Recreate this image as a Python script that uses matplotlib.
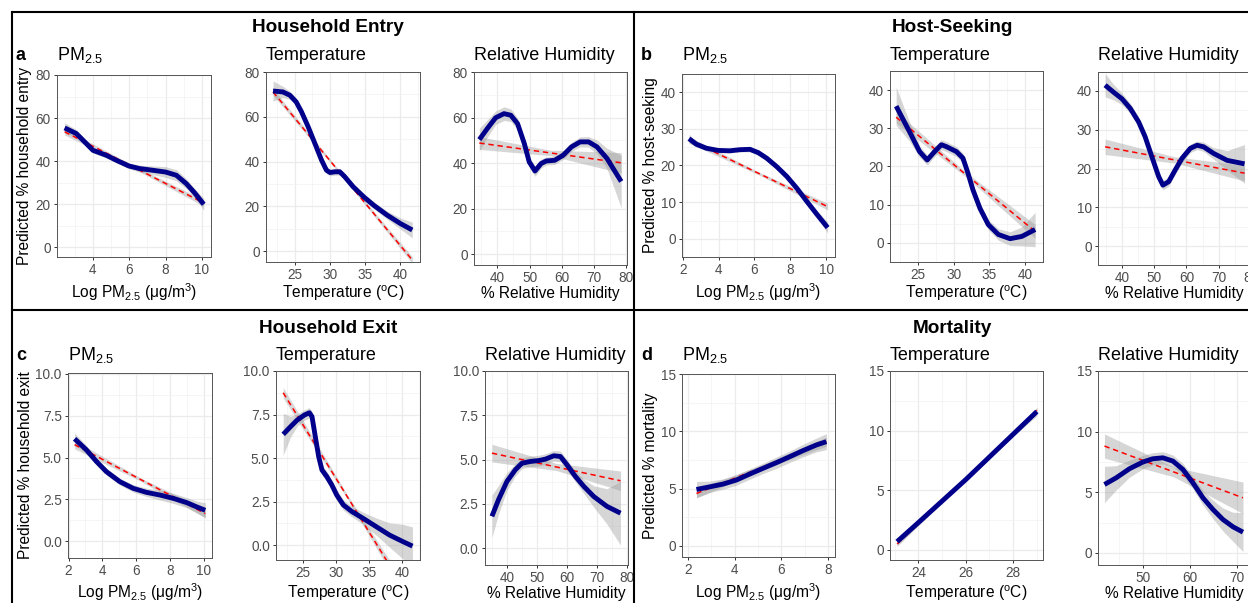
import numpy as np
import matplotlib
matplotlib.use("Agg")
import matplotlib.pyplot as plt
from matplotlib.ticker import MultipleLocator, AutoMinorLocator, FormatStrFormatter
from matplotlib.lines import Line2D

plt.rcParams['font.family'] = ['Liberation Sans', 'DejaVu Sans']
plt.rcParams['mathtext.fontset'] = 'custom'
plt.rcParams['mathtext.rm'] = 'Liberation Sans'
plt.rcParams['mathtext.it'] = 'Liberation Sans:italic'
plt.rcParams['mathtext.bf'] = 'Liberation Sans:bold'

# ---- data ----
# a: household entry
a_pm_x = [2.44, 3.08, 3.45, 4.0, 4.73, 5.28, 5.98, 6.57, 7.3, 8.0, 8.59, 9.14, 9.6, 10.1]
a_pm_y = [55.4, 52.8, 49.7, 45.0, 42.7, 40.4, 37.7, 36.5, 35.7, 34.9, 33.4, 29.5, 25.2, 19.9]
a_pm_se = [2.5, 1.8, 1.5, 1.3, 1.2, 1.2, 1.3, 1.6, 2.0, 2.5, 2.6, 2.3, 2.0, 2.8]
a_pm_lm = [53.6, 20.5]
a_pm_lm_se = [1.5, 0.7, 1.5]

a_temp_x = [21.9, 23.3, 24.3, 25.2, 25.95, 26.9, 27.86, 28.8, 29.5, 30.0, 30.7, 31.4, 32.1, 33.3, 34.8, 36.2, 38.1, 40.0, 41.7]
a_temp_y = [71.5, 71.1, 69.6, 66.6, 62.2, 55.5, 48.0, 40.6, 36.1, 35.1, 35.4, 35.4, 33.2, 28.7, 24.2, 20.5, 16.1, 12.3, 9.4]
a_temp_se = [4.5, 2.5, 1.8, 1.6, 1.5, 1.5, 1.5, 1.5, 1.5, 1.5, 1.5, 1.5, 1.5, 1.5, 1.5, 1.5, 1.8, 2.5, 3.5]
a_temp_lm = [71.1, -4.0]
a_temp_lm_se = [1.5, 0.6, 1.5]

a_rh_x = [34.45, 36.9, 39.5, 42.1, 44.2, 46.3, 48.4, 49.9, 51.7, 53.6, 55.2, 57.8, 60.4, 63.0, 65.7, 68.3, 70.9, 74.0, 78.4]
a_rh_y = [50.3, 55.1, 59.9, 61.7, 61.0, 57.3, 48.5, 40.5, 36.5, 39.8, 40.9, 41.2, 43.4, 47.1, 49.3, 49.3, 47.1, 42.0, 31.9]
a_rh_se = [5.0, 3.8, 3.0, 3.0, 2.8, 2.5, 2.3, 2.3, 2.3, 2.0, 1.8, 1.8, 1.8, 2.0, 2.2, 2.3, 3.0, 4.5, 11.5]
a_rh_lm = [48.8, 40.1]
a_rh_lm_se = [2.8, 1.2, 4.5]

# b: host-seeking
b_pm_x = [2.34, 2.75, 3.31, 3.97, 4.62, 5.18, 5.75, 6.21, 6.68, 7.24, 7.81, 8.37, 8.93, 9.49, 10.09]
b_pm_y = [27.3, 25.8, 24.7, 24.1, 24.0, 24.3, 24.4, 23.5, 22.0, 19.7, 17.0, 13.8, 10.2, 6.7, 3.1]
b_pm_se = [1.2, 0.8, 0.6, 0.6, 0.6, 0.6, 0.7, 0.7, 0.7, 0.7, 0.7, 0.7, 0.8, 1.0, 1.5]
b_pm_lm = [27.0, 8.8]
b_pm_lm_se = [0.9, 0.4, 0.9]

b_temp_x = [21.96, 23.83, 25.24, 26.3, 27.34, 28.28, 28.98, 30.39, 31.3, 32.0, 32.7, 33.67, 34.84, 36.25, 37.9, 39.54, 41.4]
b_temp_y = [35.8, 29.1, 23.9, 21.7, 23.9, 25.7, 25.2, 23.9, 22.2, 18.3, 13.9, 9.1, 4.8, 2.2, 1.1, 1.7, 3.5]
b_temp_se = [5.0, 2.5, 1.5, 1.3, 1.3, 1.3, 1.3, 1.3, 1.3, 1.3, 1.3, 1.3, 1.3, 1.5, 1.8, 2.5, 4.5]
b_temp_lm = [32.9, 3.0]
b_temp_lm_se = [1.5, 0.6, 1.8]

b_rh_x = [34.8, 37.4, 40.0, 42.6, 45.2, 47.2, 49.3, 51.4, 52.7, 54.5, 56.5, 58.6, 61.2, 63.3, 65.3, 68.4, 72.6, 78.0]
b_rh_y = [41.5, 39.7, 38.0, 35.5, 32.0, 28.2, 23.0, 17.9, 15.7, 16.6, 19.6, 22.6, 25.2, 26.0, 25.6, 23.9, 22.1, 21.2]
b_rh_se = [3.0, 2.0, 1.5, 1.3, 1.2, 1.2, 1.2, 1.2, 1.2, 1.2, 1.2, 1.1, 1.1, 1.1, 1.2, 1.5, 2.5, 5.0]
b_rh_lm = [25.6, 18.8]
b_rh_lm_se = [2.0, 0.8, 2.0]

# c: household exit
c_pm_x = [2.36, 3.05, 3.65, 4.24, 5.04, 5.83, 6.62, 7.42, 8.21, 9.0, 9.6, 10.1]
c_pm_y = [6.12, 5.47, 4.77, 4.16, 3.56, 3.16, 2.92, 2.76, 2.56, 2.31, 2.05, 1.85]
c_pm_se = [0.35, 0.25, 0.2, 0.2, 0.2, 0.22, 0.25, 0.3, 0.3, 0.3, 0.35, 0.45]
c_pm_lm = [5.77, 1.65]
c_pm_lm_se = [0.25, 0.1, 0.25]

c_temp_x = [21.99, 23.1, 24.1, 25.2, 25.95, 26.35, 26.85, 27.36, 27.86, 28.6, 29.35, 30.1, 31.1, 32.4, 34.1, 36.1, 38.1, 40.15, 41.56]
c_temp_y = [6.36, 6.8, 7.18, 7.47, 7.6, 7.38, 6.23, 5.08, 4.31, 3.93, 3.45, 2.87, 2.30, 1.92, 1.53, 1.05, 0.57, 0.19, -0.06]
c_temp_se = [1.2, 0.6, 0.35, 0.3, 0.3, 0.3, 0.3, 0.3, 0.3, 0.3, 0.3, 0.3, 0.3, 0.3, 0.35, 0.5, 0.7, 1.0, 1.1]
c_temp_lm = [8.75, -3.3]
c_temp_lm_se = [0.3, 0.12, 0.4]

c_rh_x = [35.0, 37.2, 40.0, 42.8, 45.0, 47.8, 50.6, 52.8, 55.6, 57.8, 60.0, 62.8, 65.6, 68.9, 73.3, 77.8]
c_rh_y = [1.79, 2.73, 3.76, 4.42, 4.79, 4.89, 4.94, 5.02, 5.21, 5.17, 4.70, 4.04, 3.48, 2.91, 2.35, 1.97]
c_rh_se = [1.2, 0.8, 0.5, 0.35, 0.3, 0.3, 0.3, 0.3, 0.3, 0.3, 0.3, 0.3, 0.4, 0.6, 1.0, 1.8]
c_rh_lm = [5.36, 3.80]
c_rh_lm_se = [0.5, 0.2, 0.55]

# d: mortality
d_pm_x = [2.36, 2.93, 3.5, 4.07, 4.64, 5.21, 5.79, 6.36, 6.93, 7.5, 7.93]
d_pm_y = [4.93, 5.16, 5.4, 5.75, 6.27, 6.77, 7.27, 7.79, 8.32, 8.81, 9.1]
d_pm_se = [0.7, 0.5, 0.45, 0.45, 0.45, 0.45, 0.5, 0.5, 0.55, 0.6, 0.7]
d_pm_lm = [4.58, 9.1]
d_pm_lm_se = [0.4, 0.2, 0.4]

d_temp_x = [23.1, 24.0, 25.0, 26.0, 27.0, 28.0, 29.0]
d_temp_y = [0.7, 2.3, 4.1, 5.9, 7.8, 9.7, 11.6]
d_temp_se = [0.3, 0.2, 0.15, 0.15, 0.15, 0.2, 0.35]
d_temp_lm = [0.5, 11.7]
d_temp_lm_se = [0.2, 0.1, 0.2]

d_rh_x = [41.87, 44.35, 47.17, 50.0, 52.1, 54.24, 56.36, 58.48, 60.6, 62.72, 64.84, 66.96, 69.08, 71.2]
d_rh_y = [5.64, 6.19, 6.94, 7.49, 7.76, 7.84, 7.57, 6.88, 5.78, 4.54, 3.58, 2.75, 2.15, 1.71]
d_rh_se = [1.5, 1.0, 0.7, 0.55, 0.5, 0.5, 0.5, 0.5, 0.5, 0.6, 0.75, 0.95, 1.2, 1.6]
d_rh_lm = [8.81, 4.54]
d_rh_lm_se = [1.0, 0.4, 1.3]

group_titles = ["Household Entry", "Host-Seeking", "Household Exit", "Mortality"]
group_letters = ["a", "b", "c", "d"]
y_titles = ["Predicted % household entry", "Predicted % host-seeking",
            "Predicted % household exit", "Predicted % mortality"]
sub_titles = [r"PM$_{\mathregular{2.5}}$", "Temperature", "Relative Humidity"]
x_titles = [r"Log PM$_{\mathregular{2.5}}$ (μg/m$^{\mathregular{3}}$)",
            r"Temperature ($^{\mathregular{o}}$C)", "% Relative Humidity"]

# ---- layout (pixels) ----
W, H = 1248, 603
fig = plt.figure(figsize=(W / 100, H / 100), dpi=100)
fig.patch.set_facecolor("white")


def fx(x):
    return x / W


def fy(y):
    return 1 - y / H


panels = [
    # data, rect (l, t, r, b), xlim, ylim, xstep, ystep, yfmt
    ((a_pm_x, a_pm_y, a_pm_se, a_pm_lm, a_pm_lm_se), (57, 75, 211, 257), (2.02, 10.5), (-4.6, 80), 2, 20, "%d"),
    ((a_temp_x, a_temp_y, a_temp_se, a_temp_lm, a_temp_lm_se), (266, 72, 420, 262), (20.9, 42.8), (-4.9, 80), 5, 20, "%d"),
    ((a_rh_x, a_rh_y, a_rh_se, a_rh_lm, a_rh_lm_se), (474, 72, 627, 265), (32.8, 80.2), (-4.8, 80), 10, 20, "%d"),
    ((b_pm_x, b_pm_y, b_pm_se, b_pm_lm, b_pm_lm_se), (682, 74, 835, 257), (1.95, 10.5), (-4.9, 44.9), 2, 10, "%d"),
    ((b_temp_x, b_temp_y, b_temp_se, b_temp_lm, b_temp_lm_se), (890, 71, 1043, 262), (21.1, 42.5), (-5, 45), 5, 10, "%d"),
    ((b_rh_x, b_rh_y, b_rh_se, b_rh_lm, b_rh_lm_se), (1098, 72, 1251, 265), (32.6, 80.0), (-4.9, 44.9), 10, 10, "%d"),
    ((c_pm_x, c_pm_y, c_pm_se, c_pm_lm, c_pm_lm_se), (68, 373, 212, 558), (1.97, 10.5), (-1.0, 10.05), 2, 2.5, "%.1f"),
    ((c_temp_x, c_temp_y, c_temp_se, c_temp_lm, c_temp_lm_se), (276, 371, 420, 560), (20.9, 42.7), (-0.86, 10), 5, 2.5, "%.1f"),
    ((c_rh_x, c_rh_y, c_rh_se, c_rh_lm, c_rh_lm_se), (485, 371, 628, 565), (32.7, 80.3), (-0.96, 10), 10, 2.5, "%.1f"),
    ((d_pm_x, d_pm_y, d_pm_se, d_pm_lm, d_pm_lm_se), (682, 374, 835, 557), (1.74, 8.3), (-0.96, 15), 2, 5, "%d"),
    ((d_temp_x, d_temp_y, d_temp_se, d_temp_lm, d_temp_lm_se), (890, 371, 1043, 560), (22.8, 29.26), (-0.84, 15), 2, 5, "%d"),
    ((d_rh_x, d_rh_y, d_rh_se, d_rh_lm, d_rh_lm_se), (1098, 371, 1251, 565), (40.5, 72.9), (-1.0, 15), 10, 5, "%d"),
]

ylabel_x = [25, 651, 25, 651]

for i, (data, rect, xlim, ylim, xstep, ystep, yfmt) in enumerate(panels):
    x, y, se, lm, lm_se = [np.asarray(v, dtype=float) for v in data]
    l, t, r, b = rect
    ax = fig.add_axes([fx(l), fy(b), (r - l) / W, (b - t) / H])
    ax.set_xlim(*xlim)
    ax.set_ylim(*ylim)

    # linear fit + its band
    lx = np.array([x[0], (x[0] + x[-1]) / 2, x[-1]])
    ly = np.array([lm[0], (lm[0] + lm[1]) / 2, lm[1]])
    ax.fill_between(lx, ly - lm_se, ly + lm_se, color="#999999", alpha=0.4, lw=0, zorder=2)
    # loess band
    ax.fill_between(x, y - se, y + se, color="#999999", alpha=0.4, lw=0, zorder=2)
    ax.plot(lx[[0, -1]], ly[[0, -1]], color="red", lw=1.1, ls=(0, (3.5, 2.5)), zorder=3)
    ax.plot(x, y, color="#00008B", lw=3.5, solid_joinstyle="round", solid_capstyle="butt", zorder=4)

    ax.xaxis.set_major_locator(MultipleLocator(xstep))
    ax.yaxis.set_major_locator(MultipleLocator(ystep))
    ax.xaxis.set_minor_locator(AutoMinorLocator(2))
    ax.yaxis.set_minor_locator(AutoMinorLocator(2))
    ax.yaxis.set_major_formatter(FormatStrFormatter(yfmt))
    ax.grid(which="major", color="#EBEBEB", lw=0.9, zorder=0)
    ax.grid(which="minor", color="#F2F2F2", lw=0.5, zorder=0)
    ax.set_axisbelow(True)
    ax.tick_params(which="major", length=2.5, width=0.7, color="#333333",
                   labelcolor="#4D4D4D", labelsize=9.8, pad=2)
    ax.tick_params(which="minor", length=0)
    for s in ax.spines.values():
        s.set_color("#555555")
        s.set_linewidth(0.7)

    row = i // 6
    col = i % 3
    base = 60 if row == 0 else 360
    fig.text(fx(l), fy(base), sub_titles[col], fontsize=13, ha="left", va="baseline")
    fig.text(fx((l + r) / 2), fy(base + 238), x_titles[col], fontsize=11.2, ha="center", va="baseline")

    grp = (i // 6) * 2 + (i % 6) // 3
    if col == 0:
        fig.text(fx(ylabel_x[grp]), fy((t + b) / 2), y_titles[grp], fontsize=11.2, rotation=90,
                 ha="center", va="center")

# group titles and letters
title_pos = [(328, 32), (952, 32), (328, 333), (952, 333)]
letter_pos = [(16, 60), (641, 60), (16, 360), (641, 360)]
for k in range(4):
    fig.text(fx(title_pos[k][0]), fy(title_pos[k][1]), group_titles[k], fontsize=13.7,
             fontweight="bold", ha="center", va="baseline")
    fig.text(fx(letter_pos[k][0]), fy(letter_pos[k][1]), group_letters[k], fontsize=13,
             fontweight="bold", ha="left", va="baseline")

# frame lines
for (x0, y0, x1, y1) in [(12, 12, W, 12), (12, 12, 12, H), (634, 12, 634, H), (12, 310, W, 310)]:
    fig.add_artist(Line2D([fx(x0), fx(x1)], [fy(y0), fy(y1)], color="black", lw=1.5))

fig.savefig("out.png", dpi=100)
